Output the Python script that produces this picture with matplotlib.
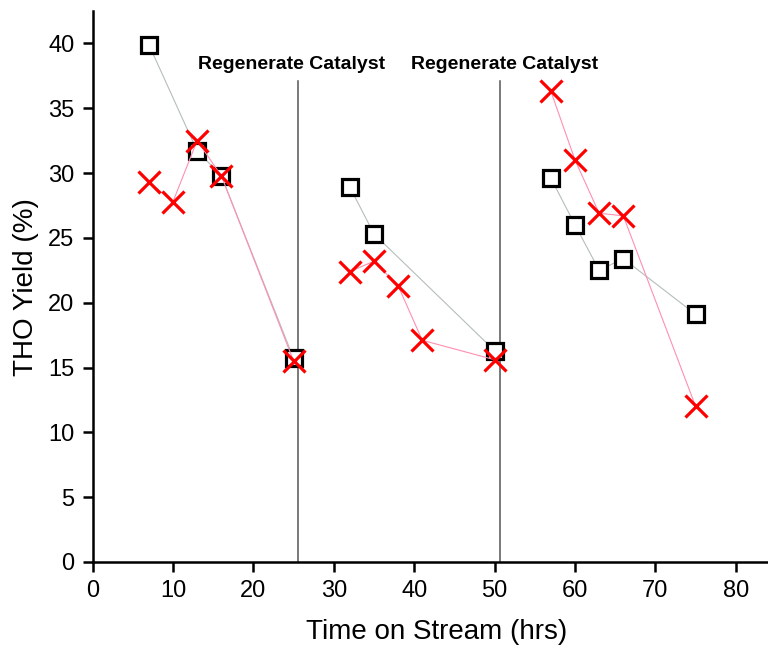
import matplotlib
matplotlib.use("Agg")
import matplotlib.pyplot as plt

plt.rcParams['font.family'] = ['Liberation Sans', 'DejaVu Sans']

# THO yield over three catalyst runs (each run is one connected segment)
square_runs = [
    ([7, 13, 16, 25], [39.9, 31.7, 29.8, 15.7]),
    ([32, 35, 50], [28.9, 25.3, 16.3]),
    ([57, 60, 63, 66, 75], [29.6, 26.0, 22.5, 23.4, 19.1]),
]
cross_runs = [
    ([7, 10, 13, 16, 25], [29.3, 27.8, 32.5, 29.8, 15.5]),
    ([32, 35, 38, 41, 50], [22.4, 23.2, 21.3, 17.1, 15.6]),
    ([57, 60, 63, 66, 75], [36.3, 31.0, 26.9, 26.7, 12.0]),
]
regen_times = [25.6, 50.7]
regen_label_x = [24.8, 51.2]
regen_label = "Regenerate Catalyst"
x_ticks = [0, 10, 20, 30, 40, 50, 60, 70, 80]
y_ticks = [0, 5, 10, 15, 20, 25, 30, 35, 40]

fig = plt.figure(figsize=(7.68, 6.5), dpi=100)
ax = fig.add_axes([0.1206, 0.1354, 0.8794, 0.8477])

for t in regen_times:
    ax.plot([t, t], [0, 37.1], color='#555555', lw=1.1, zorder=1)
for lx in regen_label_x:
    ax.text(lx, 38.4, regen_label, ha='center', va='center',
            fontsize=14, fontweight='bold')

for xs, ys in square_runs:
    ax.plot(xs, ys, color='#b5bdbd', lw=0.8, zorder=2)
    ax.plot(xs, ys, ls='none', marker='s', ms=11.5, mfc='white',
            mec='black', mew=2.3, zorder=3)
for xs, ys in cross_runs:
    ax.plot(xs, ys, color='#ff8fb0', lw=0.8, zorder=4)
    ax.plot(xs, ys, ls='none', marker='x', ms=16, mec='#ff0000',
            mew=2.3, zorder=5)

ax.set_xlim(0, 84)
ax.set_ylim(0, 42.5)
ax.set_xticks(x_ticks)
ax.set_yticks(y_ticks)
ax.tick_params(direction='out', length=7, width=1.8, labelsize=17, pad=6)

for side in ['top', 'right']:
    ax.spines[side].set_visible(False)
for side in ['left', 'bottom']:
    ax.spines[side].set_linewidth(1.8)

ax.set_xlabel("Time on Stream (hrs)", fontsize=20)
ax.set_ylabel("THO Yield (%)", fontsize=20)
ax.xaxis.set_label_coords(0.51, -0.1035)
ax.yaxis.set_label_coords(-0.079, 0.499)

fig.savefig("out.png", dpi=100)
